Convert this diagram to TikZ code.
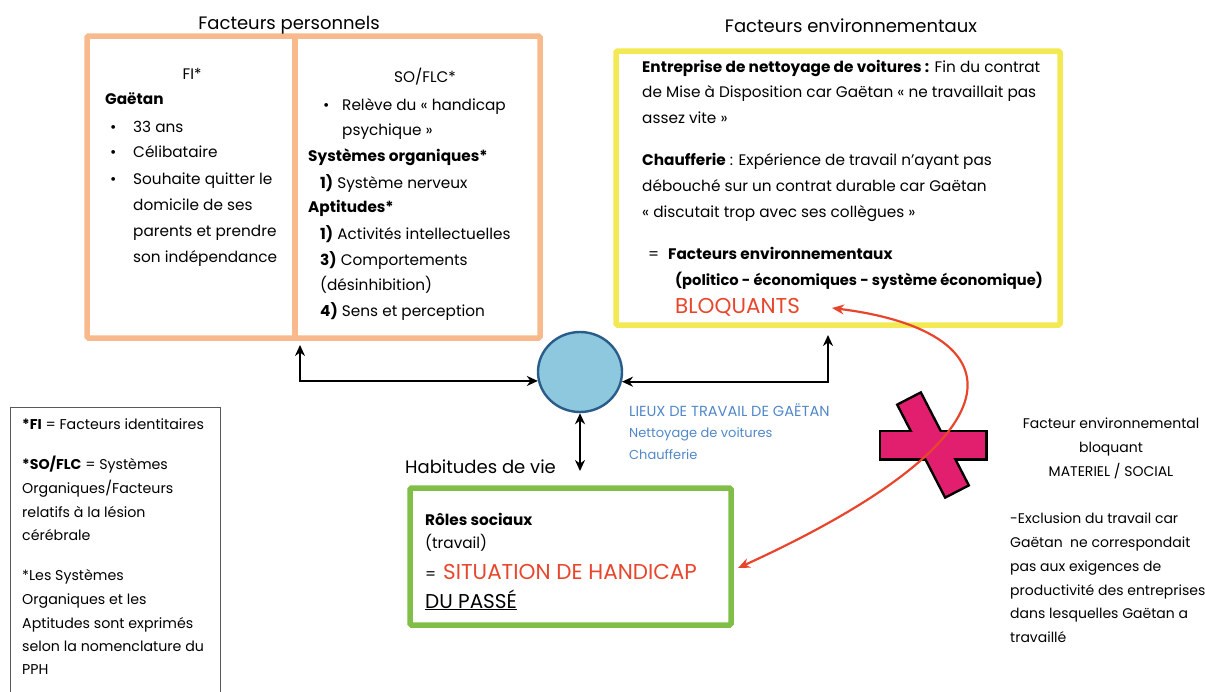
\documentclass[tikz,border=0pt]{standalone}
\usepackage{fontspec}
\setmainfont{Poppins}
\usetikzlibrary{arrows.meta,shapes.geometric}

\definecolor{persoorange}{RGB}{248,186,140}
\definecolor{envyellow}{RGB}{243,233,82}
\definecolor{habgreen}{RGB}{128,190,72}
\definecolor{lieufill}{RGB}{142,200,222}
\definecolor{lieuedge}{RGB}{42,92,138}
\definecolor{lieutext}{RGB}{82,136,200}
\definecolor{bloqred}{RGB}{232,70,44}
\definecolor{crosspink}{RGB}{226,30,110}

\tikzstyle{frame}=[draw,line width=5.5pt,rounded corners=1.5pt,inner sep=0pt]
\tikzstyle{heading}=[font=\fontsize{18}{22}\selectfont,anchor=base,inner sep=0pt]
\tikzstyle{line}=[font=\fontsize{15.3}{20}\selectfont,anchor=base west,inner sep=0pt]
\tikzstyle{note}=[font=\fontsize{14.2}{16}\selectfont,anchor=base west,inner sep=0pt]
\tikzstyle{link}=[draw,line width=2pt,{Stealth[length=11pt,width=10pt]}-{Stealth[length=11pt,width=10pt]}]
\tikzstyle{redlink}=[draw=bloqred,line width=2.2pt,{Stealth[length=12pt,width=10pt]}-{Stealth[length=12pt,width=10pt]}]
\tikzstyle{crossbar}=[draw=black,line width=5pt,fill=crosspink]
\newcommand{\bigsize}{\fontsize{21.5}{24}\selectfont}

\begin{document}
\begin{tikzpicture}[x=1pt,y=-1pt]
    \useasboundingbox (0,0) rectangle (1205,691);
    % First we draw the frames
    \node[frame,draw=persoorange,minimum width=453pt,minimum height=302pt] (perso) at (313.5,187) {};
    \path[draw=persoorange,line width=5.5pt] (295,36) -- (295,338);
    \node[frame,draw=envyellow,minimum width=444pt,minimum height=274pt] (env) at (838,188) {};
    \node[frame,draw=habgreen,minimum width=321pt,minimum height=137pt] (hab) at (570.5,556.5) {};
    \node[draw=black!65,line width=0.7pt,minimum width=210pt,minimum height=300pt,inner sep=0pt] (legend) at (115,557) {};
    \node[ellipse,draw=lieuedge,fill=lieufill,line width=2.4pt,minimum width=84pt,minimum height=80pt] (lieu) at (580,372) {};

    % Titles
    \node[heading] (persotitle) at (289,29) {Facteurs personnels};
    \node[heading] (envtitle) at (851,32) {Facteurs environnementaux};
    \node[heading,anchor=base west] (habtitle) at (405,473) {Habitudes de vie};

    % Identity factors
    \node[line,anchor=base] (fi) at (192,79) {FI*};
    \node[line] (gaetan) at (105,104) {\textbf{Gaëtan}};
    \foreach \y/\txt [count=\i] in {132/33 ans, 157/Célibataire, 184/Souhaite quitter le, 210/domicile de ses, 236/parents et prendre, 262/son indépendance}
        \node[line] (fi\i) at (133,\y) {\txt};
    \foreach \y [count=\i] in {132,157,184}
        \node[line] (fibullet\i) at (110,\y) {\textbullet};

    % Organic systems and aptitudes
    \node[line,anchor=base] (so) at (425,82) {SO/FLC*};
    \node[line] (sobullet) at (323,110) {\textbullet};
    \foreach \pos/\txt [count=\i] in {{(342,110)}/{Relève du « handicap}, {(342,135)}/{psychique »},
        {(308,161)}/{\textbf{Systèmes organiques*}}, {(320,188)}/{\textbf{1)} Système nerveux},
        {(308,212)}/{\textbf{Aptitudes*}}, {(320,239)}/{\textbf{1)} Activités intellectuelles},
        {(320,265)}/{\textbf{3)} Comportements}, {(320,290)}/{(désinhibition)},
        {(320,316)}/{\textbf{4)} Sens et perception}}
        \node[line] (so\i) at \pos {\txt};

    % Environmental factors
    \foreach \pos/\txt [count=\i] in {{(642,72)}/{\textbf{Entreprise de nettoyage de voitures :} Fin du contrat},
        {(642,97)}/{de Mise à Disposition car Gaëtan « ne travaillait pas},
        {(642,123)}/{assez vite »},
        {(642,165)}/{\textbf{Chaufferie} : Expérience de travail n’ayant pas},
        {(642,191)}/{débouché sur un contrat durable car Gaëtan},
        {(642,217)}/{« discutait trop avec ses collègues »},
        {(648,259)}/{=},
        {(668,259)}/{\textbf{Facteurs environnementaux}}}
        \node[line] (env\i) at \pos {\txt};
    \node[line,font=\fontsize{14.7}{20}\selectfont] (env9) at (675,285) {\textbf{(politico - économiques - système économique)}};
    \node[line,font=\bigsize,text=bloqred] (bloq) at (675,313) {BLOQUANTS};

    % Life habits
    \node[line] (roles) at (425,525) {\textbf{Rôles sociaux}};
    \node[line] (travail) at (425,548) {(travail)};
    \node[line] (egal) at (425,579) {=};
    \node[line,font=\bigsize,text=bloqred] (situation) at (443,579) {SITUATION DE HANDICAP};
    \node[line,font=\fontsize{20}{24}\selectfont] (passe) at (425,608) {\underline{DU PASSÉ}};

    % Workplaces
    \node[note,font=\fontsize{14.6}{16}\selectfont,text=lieutext] (lieu1) at (629,416) {LIEUX DE TRAVAIL DE GAËTAN};
    \foreach \y/\txt [count=\i from 2] in {437/Nettoyage de voitures, 459/Chaufferie}
        \node[note,font=\fontsize{13}{16}\selectfont,text=lieutext] (lieu\i) at (629,\y) {\txt};

    % Legend
    \foreach \y/\txt [count=\i] in {429/{\textbf{*FI} = Facteurs identitaires}, 469/{\textbf{*SO/FLC} = Systèmes},
        493/{Organiques/Facteurs}, 517/relatifs à la lésion, 540/cérébrale, 580/*Les Systèmes,
        604/Organiques et les, 628/Aptitudes sont exprimés, 651/selon la nomenclature du, 674/PPH}
        \node[note] (legend\i) at (22,\y) {\txt};

    % Blocking factor
    \foreach \y/\txt [count=\i] in {428/Facteur environnemental, 452/bloquant, 476/{MATERIEL / SOCIAL}}
        \node[note,font=\fontsize{14}{16}\selectfont,anchor=base] (bloqtitle\i) at (1111,\y) {\txt};
    \foreach \y/\txt [count=\i] in {523/-Exclusion du travail car, 547/Gaëtan\ \ ne correspondait,
        571/pas aux exigences de, 595/productivité des entreprises, 618/dans lesquelles Gaëtan a, 642/travaillé}
        \node[note,font=\fontsize{14}{16}\selectfont] (bloqtext\i) at (1010,\y) {\txt};

    % The cross
    \path[crossbar] (881,432) rectangle (985,458);
    \path[crossbar,rotate around={-62.7:(933,445)}] (882,433) rectangle (984,457);
    \path[fill=crosspink] (881,432) rectangle (985,458);
    \path[fill=crosspink,rotate around={-62.7:(933,445)}] (882,433) rectangle (984,457);

    % Connect the workplace with the factors
    \coordinate (persofoot) at (300,345);
    \coordinate (envfoot) at (828,335);
    \coordinate (habhead) at (580,471);
    \coordinate (habside) at (738,568);
    \coordinate (bloqtip) at (832,308);
    \path[link] (persofoot) |- (lieu.192);
    \path[link] (lieu.-13) -| (envfoot);
    \path[link] (lieu.south) -- (habhead);
    \path[redlink] (habside) .. controls (1040,430) and (1010,330) .. (bloqtip);
\end{tikzpicture}
\end{document}
